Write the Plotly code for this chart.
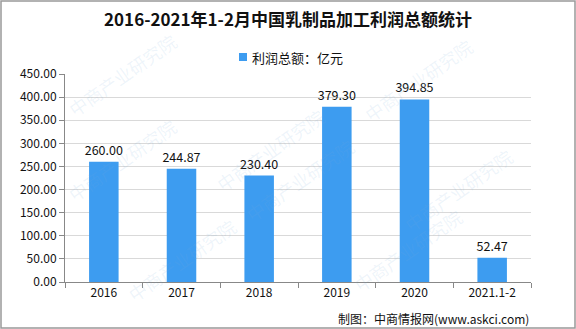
import plotly.graph_objects as go

years = ["2016", "2017", "2018", "2019", "2020", "2021.1-2"]
profit = [260.00, 244.87, 230.40, 379.30, 394.85, 52.47]
y_ticks = [0, 50, 100, 150, 200, 250, 300, 350, 400, 450]

bar_color = "#3d9cf0"
font_cn = "Noto Sans CJK SC"

# plot area in pixels: x 65..531, y 74..282
L, R, T, B = 65, 45, 74, 47
PW, PH = 576 - L - R, 329 - T - B


def px(x):
    return (x - L) / PW


def py(y):
    return (329 - B - y) / PH


fig = go.Figure()
fig.add_trace(go.Bar(
    x=years, y=profit, name="利润总额：亿元", showlegend=False,
    marker=dict(color=bar_color, line=dict(width=0)),
    text=[f"{v:.2f}" for v in profit], textposition="outside",
    constraintext="none",
    textfont=dict(size=12.5, color="#111", family=font_cn),
    cliponaxis=False, width=0.38,
))

# faint diagonal watermark text
wm_pos = [(60, 25), (270, 100), (480, 30), (60, 160), (300, 230), (520, 140),
          (120, 310), (470, 300)]
for wx, wy in wm_pos:
    fig.add_annotation(x=px(wx), y=py(wy), xref="paper", yref="paper", text="中商产业研究院",
                       showarrow=False, textangle=-35,
                       font=dict(size=18, color="rgba(120,170,220,0.13)", family=font_cn))

# legend: colour square plus label
fig.add_shape(type="rect", xref="paper", yref="paper",
              x0=px(239), x1=px(247), y0=py(61), y1=py(53),
              fillcolor=bar_color, line=dict(width=0))
fig.add_annotation(x=px(250), y=py(57), xref="paper", yref="paper", xanchor="left",
                   yanchor="middle", text="利润总额：亿元", showarrow=False,
                   font=dict(size=13, color="#111", family=font_cn))

fig.add_annotation(x=px(531), y=py(318), xref="paper", yref="paper", xanchor="right",
                   yanchor="middle", text="制图：中商情报网(www.askci.com)", showarrow=False,
                   font=dict(size=12, color="#111", family=font_cn))

fig.update_layout(
    width=576, height=329,
    margin=dict(l=L, r=R, t=T, b=B),
    paper_bgcolor="white", plot_bgcolor="white",
    title=dict(text="<b>2016-2021年1-2月中国乳制品加工利润总额统计</b>",
               x=0.5, xanchor="center", y=1 - 20 / 329, yanchor="middle",
               font=dict(size=17, color="#111", family=font_cn)),
    showlegend=False,
    xaxis=dict(showline=True, linecolor="#888", linewidth=1, ticks="outside",
               ticklen=5, tickcolor="#888", tickson="boundaries",
               tickfont=dict(size=12, color="#111", family=font_cn)),
    yaxis=dict(range=[0, 450], tickvals=y_ticks,
               ticktext=[f"{v:.2f}" for v in y_ticks],
               showline=True, linecolor="#888", linewidth=1,
               ticks="outside", ticklen=5, tickcolor="#888",
               gridcolor="#d9d9d9", gridwidth=1, zeroline=False,
               tickfont=dict(size=12, color="#111", family=font_cn)),
)
fig.add_shape(type="rect", xref="paper", yref="paper", x0=px(1), x1=px(575),
              y0=py(328), y1=py(1), line=dict(color="#999", width=1.5))

fig.write_html("out.html")
